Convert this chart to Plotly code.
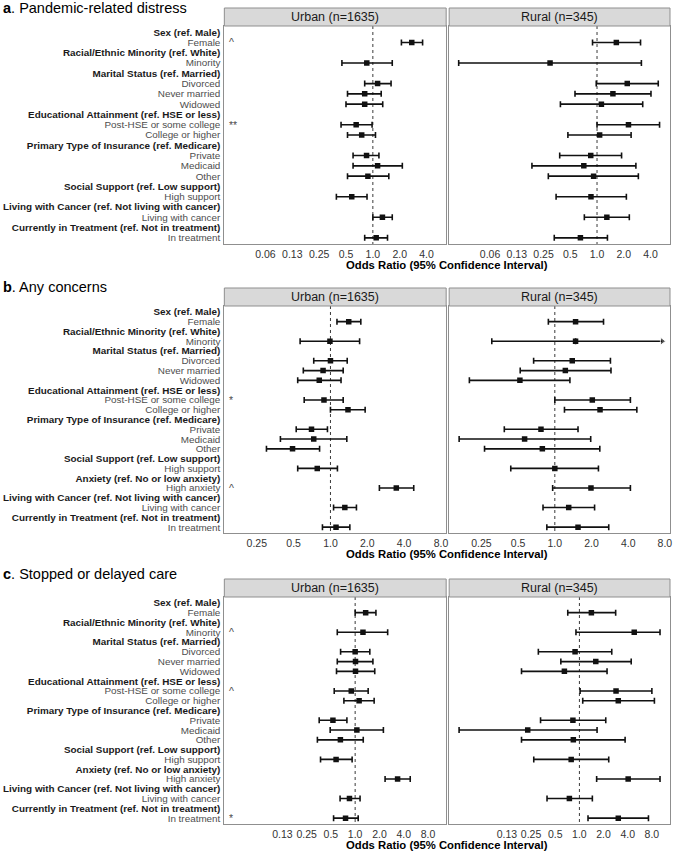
import numpy as np
import plotly.graph_objects as go

# ---------------- DATA ----------------
rows_a = ["Sex (ref. Male)", "Female",
          "Racial/Ethnic Minority (ref. White)", "Minority",
          "Marital Status (ref. Married)", "Divorced", "Never married", "Widowed",
          "Educational Attainment (ref. HSE or less)", "Post-HSE or some college", "College or higher",
          "Primary Type of Insurance (ref. Medicare)", "Private", "Medicaid", "Other",
          "Social Support (ref. Low support)", "High support",
          "Living with Cancer (ref. Not living with cancer)", "Living with cancer",
          "Currently in Treatment (ref. Not in treatment)", "In treatment"]
rows_bc = ["Sex (ref. Male)", "Female",
           "Racial/Ethnic Minority (ref. White)", "Minority",
           "Marital Status (ref. Married)", "Divorced", "Never married", "Widowed",
           "Educational Attainment (ref. HSE or less)", "Post-HSE or some college", "College or higher",
           "Primary Type of Insurance (ref. Medicare)", "Private", "Medicaid", "Other",
           "Social Support (ref. Low support)", "High support",
           "Anxiety (ref. No or low anxiety)", "High anxiety",
           "Living with Cancer (ref. Not living with cancer)", "Living with cancer",
           "Currently in Treatment (ref. Not in treatment)", "In treatment"]

items_a = ["Female", "Minority", "Divorced", "Never married", "Widowed", "Post-HSE or some college",
           "College or higher", "Private", "Medicaid", "Other", "High support",
           "Living with cancer", "In treatment"]
items_bc = ["Female", "Minority", "Divorced", "Never married", "Widowed", "Post-HSE or some college",
            "College or higher", "Private", "Medicaid", "Other", "High support", "High anxiety",
            "Living with cancer", "In treatment"]

# a. Pandemic-related distress
a_urban_or = [2.73, 0.855, 1.13, 0.81, 0.81, 0.65, 0.75, 0.85, 1.13, 0.88, 0.58, 1.28, 1.09]
a_urban_lo = [2.09, 0.45, 0.81, 0.52, 0.50, 0.44, 0.52, 0.60, 0.60, 0.52, 0.39, 1.00, 0.81]
a_urban_hi = [3.61, 1.65, 1.60, 1.24, 1.29, 0.98, 1.07, 1.17, 2.14, 1.51, 0.86, 1.65, 1.46]
a_rural_or = [1.65, 0.296, 2.19, 1.51, 1.12, 2.26, 1.07, 0.85, 0.71, 0.915, 0.855, 1.29, 0.65]
a_rural_lo = [0.89, 0.0277, 0.98, 0.565, 0.387, 1.00, 0.47, 0.38, 0.185, 0.283, 0.346, 0.72, 0.33]
a_rural_hi = [3.09, 3.16, 4.89, 4.05, 3.27, 5.06, 2.42, 1.89, 2.74, 2.92, 2.14, 2.31, 1.31]

# b. Any concerns
b_urban_or = [1.41, 0.99, 1.00, 0.87, 0.81, 0.885, 1.39, 0.70, 0.73, 0.49, 0.78, 3.45, 1.31, 1.11]
b_urban_lo = [1.13, 0.565, 0.73, 0.60, 0.54, 0.61, 1.00, 0.525, 0.39, 0.30, 0.54, 2.51, 1.06, 0.86]
b_urban_hi = [1.77, 1.73, 1.37, 1.27, 1.22, 1.27, 1.92, 0.945, 1.36, 0.815, 1.14, 4.79, 1.63, 1.44]
b_rural_or = [1.48, 1.48, 1.39, 1.22, 0.517, 2.03, 2.35, 0.77, 0.565, 0.79, 1.00, 1.98, 1.30, 1.55]
b_rural_lo = [0.885, 0.304, 0.67, 0.52, 0.199, 1.00, 1.20, 0.385, 0.164, 0.265, 0.435, 0.96, 0.80, 0.86]
b_rural_hi = [2.51, 7.6, 2.86, 2.89, 1.33, 4.17, 4.71, 1.55, 1.97, 2.34, 2.28, 4.17, 2.12, 2.77]
b_rural_truncated = ["Minority"]

# c. Stopped or delayed care
c_urban_or = [1.35, 1.25, 1.00, 1.01, 1.01, 0.895, 1.12, 0.53, 1.05, 0.656, 0.58, 3.36, 0.85, 0.76]
c_urban_lo = [1.00, 0.60, 0.66, 0.60, 0.587, 0.55, 0.725, 0.358, 0.49, 0.34, 0.372, 2.35, 0.65, 0.54]
c_urban_hi = [1.81, 2.53, 1.52, 1.66, 1.75, 1.45, 1.72, 0.79, 2.24, 1.26, 0.917, 4.82, 1.15, 1.09]
c_rural_or = [1.41, 4.82, 0.883, 1.60, 0.65, 2.86, 3.05, 0.83, 0.227, 0.84, 0.79, 4.05, 0.75, 3.05]
c_rural_lo = [0.716, 0.906, 0.308, 0.587, 0.19, 1.02, 1.10, 0.328, 0.0317, 0.19, 0.27, 1.64, 0.395, 1.28]
c_rural_hi = [2.83, 10.1, 2.53, 4.42, 2.21, 8.0, 8.6, 2.13, 1.66, 3.71, 2.32, 10.1, 1.45, 7.25]

# significance marks (row label -> mark), shown in the Urban panel
a_marks = {"Female": "^", "Post-HSE or some college": "**"}
b_marks = {"Post-HSE or some college": "*", "High anxiety": "^"}
c_marks = {"Minority": "^", "Post-HSE or some college": "^", "In treatment": "*"}

a_ticks = [0.0625, 0.125, 0.25, 0.5, 1, 2, 4]
a_ticktext = ["0.06", "0.13", "0.25", "0.5", "1.0", "2.0", "4.0"]
b_ticks = [0.25, 0.5, 1, 2, 4, 8]
b_ticktext = ["0.25", "0.5", "1.0", "2.0", "4.0", "8.0"]
c_ticks = [0.125, 0.25, 0.5, 1, 2, 4, 8]
c_ticktext = ["0.13", "0.25", "0.5", "1.0", "2.0", "4.0", "8.0"]

facet_titles = ["Urban (n=1635)", "Rural (n=345)"]
panel_titles = [("a", "Pandemic-related distress"), ("b", "Any concerns"), ("c", "Stopped or delayed care")]
x_title = "Odds Ratio (95% Confidence Interval)"

# ---------------- LAYOUT CONSTANTS ----------------
W, H = 676, 852
FONT = "Liberation Sans, Arial, Helvetica, sans-serif"
BORDER = "#8f8f8f"
FACET_X = [(225, 447.5), (450.5, 672)]

panels = [
    dict(rows=rows_a, items=items_a, data=[(a_urban_or, a_urban_lo, a_urban_hi, []),
                                           (a_rural_or, a_rural_lo, a_rural_hi, [])],
         marks=a_marks, ticks=a_ticks, ticktext=a_ticktext, log2range=(-5.53, 2.73),
         title_y=8, strip=(8, 26), plot=(26, 244)),
    dict(rows=rows_bc, items=items_bc, data=[(b_urban_or, b_urban_lo, b_urban_hi, []),
                                             (b_rural_or, b_rural_lo, b_rural_hi, b_rural_truncated)],
         marks=b_marks, ticks=b_ticks, ticktext=b_ticktext, log2range=(-2.88, 3.14),
         title_y=287, strip=(288, 306), plot=(306, 533)),
    dict(rows=rows_bc, items=items_bc, data=[(c_urban_or, c_urban_lo, c_urban_hi, []),
                                             (c_rural_or, c_rural_lo, c_rural_hi, [])],
         marks=c_marks, ticks=c_ticks, ticktext=c_ticktext, log2range=(-5.39, 3.75),
         title_y=574, strip=(579, 597), plot=(597, 824)),
]

def fx(px):
    return px / W

def fy(py):
    return 1 - py / H

fig = go.Figure()
shapes = []
annotations = []
layout_axes = {}

ax_i = 0
for p, panel in enumerate(panels):
    rows = panel["rows"]
    n = len(rows)
    idx = {r: i for i, r in enumerate(rows)}
    ticktext_y = []
    for r in rows:
        if "(ref." in r:
            ticktext_y.append("<b>" + r + "</b>")
        else:
            ticktext_y.append('<span style="color:#4d4d4d">' + r + "</span>")
    xr = [np.log10(2 ** panel["log2range"][0]), np.log10(2 ** panel["log2range"][1])]
    for f in range(2):
        ax_i += 1
        sfx = "" if ax_i == 1 else str(ax_i)
        xname, yname = "x" + sfx, "y" + sfx
        x0, x1 = FACET_X[f]
        top, bot = panel["plot"]
        layout_axes["xaxis" + sfx] = dict(
            type="log", range=xr, domain=[fx(x0), fx(x1)], anchor=yname,
            tickvals=panel["ticks"], ticktext=panel["ticktext"],
            showgrid=False, zeroline=False, showline=True, mirror=True,
            linecolor=BORDER, linewidth=1, ticks="",
            tickfont=dict(family=FONT, size=10.5, color="#333333"), fixedrange=True)
        layout_axes["yaxis" + sfx] = dict(
            range=[n - 1 + 0.6, -0.6], domain=[fy(bot), fy(top)], anchor=xname,
            tickvals=list(range(n)), ticktext=ticktext_y, showticklabels=(f == 0),
            showgrid=False, zeroline=False, showline=True, mirror=True,
            linecolor=BORDER, linewidth=1, ticks="", ticklabelstandoff=1,
            tickfont=dict(family=FONT, size=9.9, color="#1a1a1a"), fixedrange=True)

        # reference line at OR = 1
        fig.add_trace(go.Scatter(x=[1, 1], y=[-0.6, n - 0.4], mode="lines",
                                 line=dict(color="#3a3a3a", width=1, dash="3px,3px"),
                                 xaxis=xname, yaxis=yname, hoverinfo="skip", showlegend=False))

        orv, lov, hiv, trunc = panel["data"][f]
        ys = [idx[it] for it in panel["items"]]
        plus = []
        minus = []
        for it, o, lo, hi in zip(panel["items"], orv, lov, hiv):
            minus.append(o - lo)
            plus.append(0 if it in trunc else hi - o)
        fig.add_trace(go.Scatter(
            x=orv, y=ys, mode="markers",
            marker=dict(symbol="square", size=5.5, color="#111111"),
            error_x=dict(type="data", symmetric=False, array=plus, arrayminus=minus,
                         color="#111111", thickness=1.6, width=3),
            xaxis=xname, yaxis=yname, showlegend=False))
        for it, o, lo, hi in zip(panel["items"], orv, lov, hiv):
            if it in trunc:
                fig.add_trace(go.Scatter(
                    x=[o, hi], y=[idx[it], idx[it]], mode="lines+markers",
                    line=dict(color="#111111", width=1.6),
                    marker=dict(symbol="triangle-right", size=[0, 7], color="#111111"),
                    xaxis=xname, yaxis=yname, showlegend=False, hoverinfo="skip"))

        # strip
        s0, s1 = panel["strip"]
        shapes.append(dict(type="rect", xref="paper", yref="paper",
                           x0=fx(x0), x1=fx(x1), y0=fy(s1), y1=fy(s0),
                           fillcolor="#d9d9d9", line=dict(color=BORDER, width=1)))
        annotations.append(dict(xref="paper", yref="paper", x=fx((x0 + x1) / 2), y=fy((s0 + s1) / 2),
                                text=facet_titles[f], showarrow=False, xanchor="center", yanchor="middle",
                                font=dict(family=FONT, size=12.5, color="#1a1a1a")))
        if f == 0:
            for lab, mk in panel["marks"].items():
                annotations.append(dict(xref="paper", yref=yname, x=fx(227.5), y=idx[lab],
                                        text=mk, showarrow=False, xanchor="left", yanchor="middle",
                                        font=dict(family=FONT, size=10.5, color="#4d4d4d")))

    # panel title
    letter, ttl = panel_titles[p]
    annotations.append(dict(xref="paper", yref="paper", x=fx(1), y=fy(panel["title_y"]),
                            text="<b>" + letter + "</b>. " + ttl, showarrow=False,
                            xanchor="left", yanchor="middle",
                            font=dict(family=FONT, size=14.5, color="#000000")))
    # x-axis title
    bot = panel["plot"][1]
    annotations.append(dict(xref="paper", yref="paper", x=fx(448.5), y=fy(bot + 20.5),
                            text="<b>" + x_title + "</b>", showarrow=False,
                            xanchor="center", yanchor="middle",
                            font=dict(family=FONT, size=11.3, color="#000000")))

fig.update_layout(width=W, height=H, margin=dict(l=0, r=0, t=0, b=0),
                  paper_bgcolor="white", plot_bgcolor="white", showlegend=False,
                  shapes=shapes, annotations=annotations, **layout_axes)

fig.write_html("out.html", config={"displayModeBar": False},
               post_script="document.body.style.margin='0';document.body.style.overflow='hidden';")
